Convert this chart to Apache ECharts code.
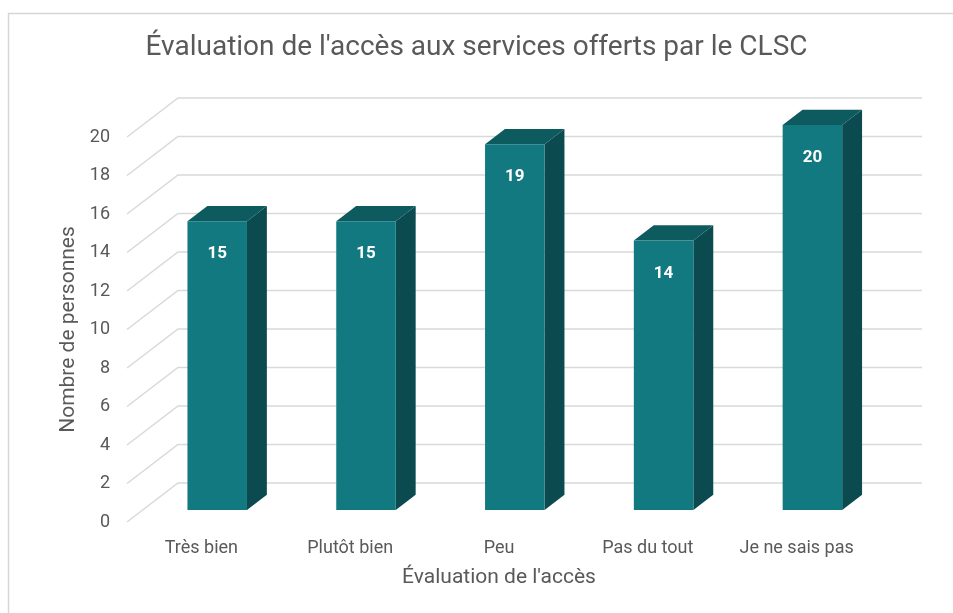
<!DOCTYPE html>
<html>
<head>
<meta charset="utf-8">
<script src="https://cdn.jsdelivr.net/npm/echarts@6/dist/echarts.min.js"></script>
<style>
  html, body { margin: 0; padding: 0; background: #ffffff; }
  #chart { width: 953px; height: 613px; }
</style>
</head>
<body>
<div id="chart"></div>
<script>
// Survey answers: how people rate access to CLSC services
const categories = ['Très bien', 'Plutôt bien', 'Peu', 'Pas du tout', 'Je ne sais pas'];
const counts = [15, 15, 19, 14, 20];
const yTicks = [0, 2, 4, 6, 8, 10, 12, 14, 16, 18, 20];

// Oblique "3D" look: offset from the front plane to the back wall, in px
const DEPTH = [51, -39];
// Bar placement inside the depth (fractions of DEPTH) and inside a category band
const BAR_FRONT = 0.31;
const BAR_BACK = 0.70;
const BAR_WIDTH = 0.40;

const FONT = 'Roboto, "Open Sans", sans-serif';
const TEXT = '#595959';
const GRID = '#d9d9d9';
const FACE_FRONT = '#127980';
const FACE_TOP = '#0e5b5f';
const FACE_SIDE = '#0b4a4e';

const chart = echarts.init(document.getElementById('chart'), null, { renderer: 'canvas' });

// Gridlines: a slanted segment on the left wall and a horizontal one on the back wall
function renderGridline(params, api) {
  const cs = params.coordSys;
  const v = api.value(0);
  const y = api.coord([0, v])[1];
  const x0 = cs.x;
  const x1 = x0 + DEPTH[0];
  const y1 = y + DEPTH[1];
  const x2 = cs.x + cs.width + DEPTH[0];
  return {
    type: 'polyline',
    shape: { points: [[x0, y], [x1, y1], [x2, y1]] },
    style: { stroke: GRID, lineWidth: 1.5, fill: null },
    silent: true
  };
}

// Columns drawn as boxes: front, top and right side faces
function renderBar(params, api) {
  const i = api.value(0);
  const v = api.value(1);
  const top = api.coord([i, v]);
  const base = api.coord([i, 0]);
  const band = api.size([1, 0])[0];
  const half = band * BAR_WIDTH / 2;
  const fx = DEPTH[0] * BAR_FRONT, fy = DEPTH[1] * BAR_FRONT;
  const dx = DEPTH[0] * (BAR_BACK - BAR_FRONT), dy = DEPTH[1] * (BAR_BACK - BAR_FRONT);
  const xl = top[0] + fx - half;
  const xr = top[0] + fx + half;
  const yt = top[1] + fy;
  const yb = base[1] + fy;
  return {
    type: 'group',
    children: [
      {
        type: 'polygon',
        shape: { points: [[xr, yt], [xr + dx, yt + dy], [xr + dx, yb + dy], [xr, yb]] },
        style: { fill: FACE_SIDE }
      },
      {
        type: 'polygon',
        shape: { points: [[xl, yt], [xr, yt], [xr + dx, yt + dy], [xl + dx, yt + dy]] },
        style: { fill: FACE_TOP }
      },
      {
        type: 'rect',
        shape: { x: xl, y: yt, width: xr - xl, height: yb - yt },
        style: { fill: FACE_FRONT }
      },
      {
        type: 'text',
        x: (xl + xr) / 2,
        y: yt + 33,
        style: {
          text: String(v),
          fill: '#ffffff',
          font: 'bold 17px ' + FONT,
          align: 'center',
          verticalAlign: 'middle'
        }
      }
    ]
  };
}

const option = {
  backgroundColor: '#ffffff',
  animation: false,
  title: {
    text: "Évaluation de l'accès aux services offerts par le CLSC",
    left: 'center',
    top: 29,
    textStyle: { color: TEXT, fontFamily: FONT, fontSize: 28, fontWeight: 'normal' }
  },
  graphic: [
    {
      type: 'rect',
      shape: { x: 8.5, y: 13.5, width: 1000, height: 1000 },
      style: { fill: null, stroke: '#d6d6d6', lineWidth: 1.5 },
      silent: true
    }
  ],
  grid: { left: 127, top: 137, width: 744, height: 385 },
  xAxis: {
    type: 'category',
    data: categories,
    name: "Évaluation de l'accès",
    nameLocation: 'middle',
    nameGap: 45,
    nameTextStyle: { color: TEXT, fontFamily: FONT, fontSize: 21 },
    axisLine: { show: false },
    axisTick: { show: false },
    axisLabel: { color: TEXT, fontFamily: FONT, fontSize: 18, margin: 17 }
  },
  yAxis: {
    type: 'value',
    min: 0,
    max: 20,
    interval: 2,
    name: 'Nombre de personnes',
    nameLocation: 'middle',
    nameGap: 47,
    nameTextStyle: { color: TEXT, fontFamily: FONT, fontSize: 21 },
    axisLine: { show: false },
    axisTick: { show: false },
    splitLine: { show: false },
    axisLabel: { color: TEXT, fontFamily: FONT, fontSize: 18, margin: 17 }
  },
  series: [
    {
      type: 'custom',
      name: 'grid',
      renderItem: renderGridline,
      data: yTicks.map(v => [v]),
      encode: { y: 0 },
      silent: true,
      z: 1
    },
    {
      type: 'custom',
      name: 'Nombre de personnes',
      renderItem: renderBar,
      data: counts.map((v, i) => [i, v]),
      encode: { x: 0, y: 1 },
      z: 2
    }
  ]
};

chart.setOption(option);
</script>
</body>
</html>
